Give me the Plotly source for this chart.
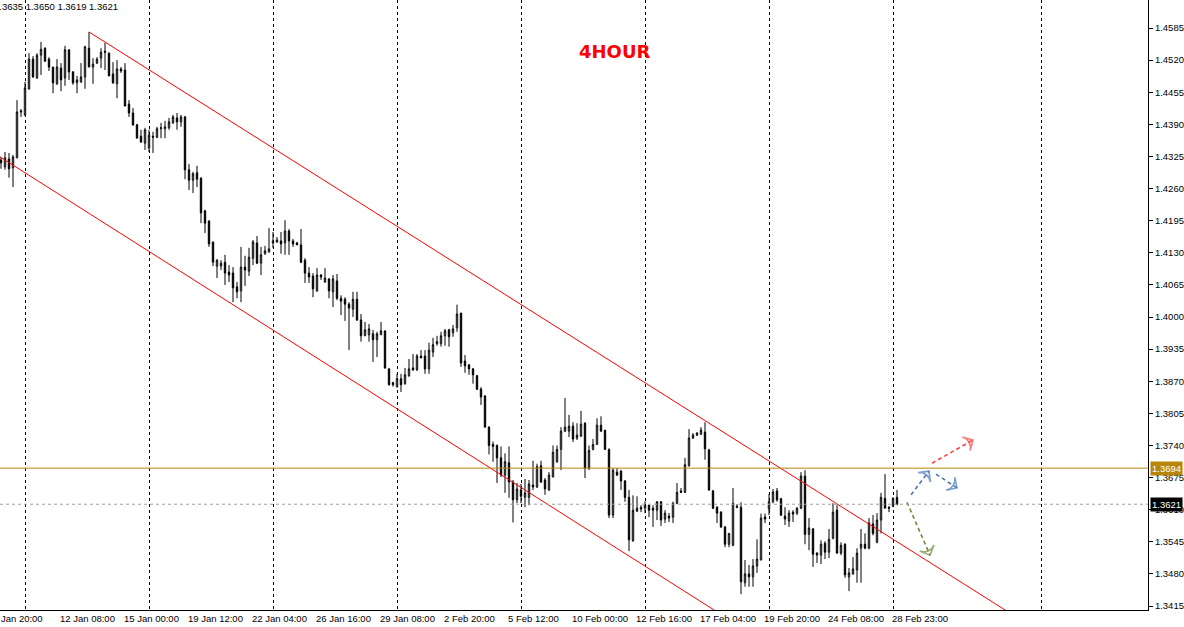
import plotly.graph_objects as go

# 4H bars (oldest first)
opens = [
    1.4318, 1.4304, 1.4320, 1.4302, 1.4322, 1.4415, 1.4409, 1.4462, 1.4522, 1.4484,
    1.4530, 1.4544, 1.4522, 1.4506, 1.4472, 1.4504, 1.4484, 1.4541, 1.4496, 1.4474,
    1.4476, 1.4486, 1.4544, 1.4506, 1.4514, 1.4524, 1.4538, 1.4534, 1.4492, 1.4472,
    1.4502, 1.4500, 1.4431, 1.4413, 1.4389, 1.4366, 1.4352, 1.4342, 1.4366, 1.4364,
    1.4381, 1.4381, 1.4383, 1.4393, 1.4403, 1.4395, 1.4405, 1.4298, 1.4277, 1.4292,
    1.4281, 1.4215, 1.4194, 1.4152, 1.4103, 1.4103, 1.4111, 1.4091, 1.4089, 1.4061,
    1.4053, 1.4101, 1.4093, 1.4119, 1.4150, 1.4109, 1.4128, 1.4132, 1.4150, 1.4152,
    1.4154, 1.4150, 1.4174, 1.4154, 1.4150, 1.4146, 1.4115, 1.4089, 1.4083, 1.4053,
    1.4085, 1.4071, 1.4077, 1.4051, 1.4073, 1.4038, 1.4036, 1.4026, 1.4016, 1.4036,
    1.3994, 1.3962, 1.3964, 1.3966, 1.3954, 1.3964, 1.3972, 1.3895, 1.3867, 1.3859,
    1.3875, 1.3865, 1.3881, 1.3897, 1.3893, 1.3921, 1.3921, 1.3895, 1.3929, 1.3946,
    1.3946, 1.3962, 1.3974, 1.3968, 1.3978, 1.4008, 1.3911, 1.3903, 1.3895, 1.3881,
    1.3854, 1.3840, 1.3777, 1.3742, 1.3740, 1.3715, 1.3680, 1.3705, 1.3666, 1.3630,
    1.3650, 1.3635, 1.3635, 1.3660, 1.3656, 1.3699, 1.3670, 1.3650, 1.3676, 1.3707,
    1.3732, 1.3769, 1.3769, 1.3779, 1.3755, 1.3759, 1.3785, 1.3694, 1.3732, 1.3742,
    1.3781, 1.3771, 1.3732, 1.3599, 1.3686, 1.3688, 1.3668, 1.3635, 1.3547, 1.3607,
    1.3611, 1.3613, 1.3619, 1.3613, 1.3609, 1.3626, 1.3591, 1.3597, 1.3595, 1.3623,
    1.3648, 1.3645, 1.3699, 1.3755, 1.3761, 1.3763, 1.3767, 1.3731, 1.3648, 1.3615,
    1.3605, 1.3575, 1.3540, 1.3538, 1.3617, 1.3615, 1.3462, 1.3480, 1.3474, 1.3496,
    1.3508, 1.3595, 1.3611, 1.3626, 1.3648, 1.3632, 1.3597, 1.3587, 1.3605, 1.3603,
    1.3613, 1.3678, 1.3560, 1.3571, 1.3522, 1.3518, 1.3542, 1.3524, 1.3552, 1.3609,
    1.3522, 1.3540, 1.3474, 1.3480, 1.3488, 1.3532, 1.3540, 1.3532, 1.3581, 1.3544,
    1.3589, 1.3633, 1.3615, 1.3617, 1.3635,
]
highs = [
    1.4324, 1.4334, 1.4332, 1.4328, 1.4439, 1.4421, 1.4476, 1.4534, 1.4528, 1.4534,
    1.4557, 1.4546, 1.4526, 1.4506, 1.4522, 1.4514, 1.4549, 1.4541, 1.4498, 1.4488,
    1.4514, 1.4549, 1.4577, 1.4524, 1.4526, 1.4544, 1.4555, 1.4536, 1.4516, 1.4520,
    1.4506, 1.4514, 1.4439, 1.4423, 1.4391, 1.4379, 1.4383, 1.4379, 1.4375, 1.4385,
    1.4393, 1.4397, 1.4403, 1.4409, 1.4413, 1.4409, 1.4407, 1.4310, 1.4294, 1.4306,
    1.4283, 1.4217, 1.4196, 1.4152, 1.4117, 1.4115, 1.4126, 1.4105, 1.4101, 1.4071,
    1.4142, 1.4124, 1.4140, 1.4156, 1.4164, 1.4142, 1.4144, 1.4180, 1.4172, 1.4162,
    1.4172, 1.4196, 1.4178, 1.4158, 1.4152, 1.4178, 1.4119, 1.4101, 1.4089, 1.4099,
    1.4087, 1.4099, 1.4079, 1.4085, 1.4087, 1.4044, 1.4040, 1.4030, 1.4051, 1.4051,
    1.4006, 1.3990, 1.3986, 1.3974, 1.3970, 1.3990, 1.3972, 1.3897, 1.3869, 1.3885,
    1.3885, 1.3897, 1.3915, 1.3925, 1.3925, 1.3933, 1.3933, 1.3948, 1.3958, 1.3962,
    1.3970, 1.3976, 1.3976, 1.3984, 1.4025, 1.4008, 1.3923, 1.3905, 1.3897, 1.3883,
    1.3858, 1.3842, 1.3779, 1.3748, 1.3742, 1.3738, 1.3724, 1.3738, 1.3670, 1.3664,
    1.3662, 1.3672, 1.3670, 1.3709, 1.3703, 1.3709, 1.3674, 1.3686, 1.3740, 1.3740,
    1.3777, 1.3836, 1.3802, 1.3787, 1.3785, 1.3810, 1.3787, 1.3740, 1.3753, 1.3795,
    1.3799, 1.3771, 1.3734, 1.3694, 1.3694, 1.3690, 1.3670, 1.3650, 1.3639, 1.3637,
    1.3619, 1.3627, 1.3619, 1.3619, 1.3627, 1.3627, 1.3609, 1.3603, 1.3626, 1.3664,
    1.3654, 1.3715, 1.3773, 1.3765, 1.3767, 1.3777, 1.3787, 1.3733, 1.3650, 1.3617,
    1.3607, 1.3577, 1.3562, 1.3654, 1.3621, 1.3625, 1.3508, 1.3498, 1.3510, 1.3550,
    1.3602, 1.3602, 1.3642, 1.3652, 1.3654, 1.3634, 1.3615, 1.3609, 1.3609, 1.3615,
    1.3686, 1.3690, 1.3593, 1.3573, 1.3524, 1.3548, 1.3546, 1.3571, 1.3623, 1.3619,
    1.3544, 1.3542, 1.3492, 1.3514, 1.3532, 1.3571, 1.3562, 1.3593, 1.3599, 1.3603,
    1.3644, 1.3682, 1.3617, 1.3635, 1.3650,
]
lows = [
    1.4300, 1.4298, 1.4282, 1.4263, 1.4322, 1.4405, 1.4407, 1.4460, 1.4484, 1.4482,
    1.4490, 1.4516, 1.4498, 1.4453, 1.4470, 1.4457, 1.4468, 1.4480, 1.4470, 1.4453,
    1.4474, 1.4462, 1.4506, 1.4472, 1.4512, 1.4504, 1.4500, 1.4488, 1.4472, 1.4443,
    1.4494, 1.4427, 1.4405, 1.4387, 1.4362, 1.4354, 1.4338, 1.4334, 1.4332, 1.4362,
    1.4362, 1.4362, 1.4379, 1.4391, 1.4379, 1.4385, 1.4279, 1.4257, 1.4251, 1.4263,
    1.4190, 1.4170, 1.4142, 1.4103, 1.4079, 1.4095, 1.4065, 1.4071, 1.4030, 1.4038,
    1.4030, 1.4063, 1.4083, 1.4105, 1.4107, 1.4085, 1.4126, 1.4130, 1.4140, 1.4150,
    1.4128, 1.4126, 1.4126, 1.4142, 1.4146, 1.4109, 1.4069, 1.4069, 1.4040, 1.4051,
    1.4075, 1.4069, 1.4038, 1.4020, 1.4034, 1.4004, 1.3992, 1.3933, 1.4000, 1.3992,
    1.3950, 1.3962, 1.3950, 1.3909, 1.3919, 1.3964, 1.3895, 1.3861, 1.3859, 1.3857,
    1.3848, 1.3863, 1.3879, 1.3891, 1.3891, 1.3917, 1.3885, 1.3885, 1.3919, 1.3942,
    1.3940, 1.3942, 1.3940, 1.3960, 1.3970, 1.3899, 1.3887, 1.3883, 1.3865, 1.3852,
    1.3822, 1.3777, 1.3722, 1.3707, 1.3664, 1.3676, 1.3644, 1.3634, 1.3584, 1.3623,
    1.3623, 1.3615, 1.3619, 1.3650, 1.3654, 1.3664, 1.3640, 1.3648, 1.3676, 1.3705,
    1.3690, 1.3767, 1.3757, 1.3747, 1.3751, 1.3757, 1.3674, 1.3690, 1.3730, 1.3742,
    1.3767, 1.3732, 1.3593, 1.3593, 1.3678, 1.3650, 1.3626, 1.3526, 1.3545, 1.3605,
    1.3605, 1.3603, 1.3595, 1.3575, 1.3589, 1.3577, 1.3583, 1.3585, 1.3583, 1.3621,
    1.3644, 1.3644, 1.3697, 1.3753, 1.3759, 1.3761, 1.3711, 1.3648, 1.3611, 1.3583,
    1.3573, 1.3534, 1.3534, 1.3536, 1.3613, 1.3439, 1.3454, 1.3454, 1.3454, 1.3482,
    1.3508, 1.3583, 1.3599, 1.3623, 1.3626, 1.3597, 1.3579, 1.3575, 1.3585, 1.3599,
    1.3611, 1.3540, 1.3528, 1.3494, 1.3502, 1.3500, 1.3510, 1.3512, 1.3550, 1.3522,
    1.3518, 1.3472, 1.3445, 1.3478, 1.3462, 1.3462, 1.3530, 1.3530, 1.3558, 1.3542,
    1.3562, 1.3613, 1.3605, 1.3615, 1.3619,
]
closes = [
    1.4312, 1.4322, 1.4300, 1.4324, 1.4415, 1.4417, 1.4464, 1.4522, 1.4486, 1.4530,
    1.4542, 1.4518, 1.4506, 1.4474, 1.4506, 1.4480, 1.4541, 1.4496, 1.4474, 1.4480,
    1.4486, 1.4547, 1.4506, 1.4512, 1.4522, 1.4536, 1.4536, 1.4488, 1.4474, 1.4502,
    1.4498, 1.4427, 1.4413, 1.4389, 1.4362, 1.4354, 1.4379, 1.4368, 1.4364, 1.4381,
    1.4383, 1.4385, 1.4395, 1.4405, 1.4395, 1.4405, 1.4298, 1.4277, 1.4290, 1.4279,
    1.4211, 1.4190, 1.4148, 1.4111, 1.4115, 1.4109, 1.4089, 1.4085, 1.4059, 1.4051,
    1.4101, 1.4095, 1.4121, 1.4152, 1.4109, 1.4126, 1.4134, 1.4138, 1.4154, 1.4156,
    1.4148, 1.4174, 1.4154, 1.4148, 1.4146, 1.4111, 1.4089, 1.4081, 1.4057, 1.4085,
    1.4081, 1.4079, 1.4053, 1.4077, 1.4038, 1.4032, 1.4026, 1.4018, 1.4036, 1.3994,
    1.3962, 1.3974, 1.3976, 1.3954, 1.3966, 1.3972, 1.3897, 1.3863, 1.3863, 1.3875,
    1.3863, 1.3883, 1.3895, 1.3893, 1.3921, 1.3917, 1.3895, 1.3933, 1.3944, 1.3950,
    1.3962, 1.3972, 1.3960, 1.3976, 1.4006, 1.3907, 1.3901, 1.3895, 1.3883, 1.3854,
    1.3838, 1.3777, 1.3740, 1.3738, 1.3715, 1.3680, 1.3707, 1.3666, 1.3630, 1.3652,
    1.3637, 1.3644, 1.3662, 1.3656, 1.3697, 1.3666, 1.3652, 1.3680, 1.3726, 1.3732,
    1.3769, 1.3777, 1.3779, 1.3753, 1.3761, 1.3783, 1.3694, 1.3730, 1.3742, 1.3781,
    1.3769, 1.3732, 1.3599, 1.3690, 1.3680, 1.3668, 1.3635, 1.3549, 1.3609, 1.3613,
    1.3615, 1.3619, 1.3609, 1.3609, 1.3626, 1.3589, 1.3603, 1.3593, 1.3623, 1.3645,
    1.3645, 1.3701, 1.3755, 1.3761, 1.3765, 1.3771, 1.3733, 1.3650, 1.3613, 1.3603,
    1.3575, 1.3540, 1.3562, 1.3623, 1.3615, 1.3464, 1.3480, 1.3474, 1.3496, 1.3510,
    1.3593, 1.3591, 1.3626, 1.3646, 1.3630, 1.3599, 1.3591, 1.3603, 1.3601, 1.3613,
    1.3678, 1.3560, 1.3573, 1.3520, 1.3518, 1.3540, 1.3524, 1.3550, 1.3605, 1.3522,
    1.3538, 1.3478, 1.3482, 1.3490, 1.3522, 1.3540, 1.3532, 1.3583, 1.3562, 1.3589,
    1.3635, 1.3613, 1.3613, 1.3633, 1.3621,
]

# time labels sit on bar numbers (weekend gaps are skipped like MT4)
label_bars = [0, 15, 31, 47, 63, 79, 95, 111, 127, 143, 159, 175, 191, 207, 223]
label_text = [
    "7 Jan 20:00", "12 Jan 08:00", "15 Jan 00:00", "19 Jan 12:00", "22 Jan 04:00",
    "26 Jan 16:00", "29 Jan 08:00", "2 Feb 20:00", "5 Feb 12:00", "10 Feb 00:00",
    "12 Feb 16:00", "17 Feb 04:00", "19 Feb 20:00", "24 Feb 08:00", "28 Feb 23:00",
]
grid_bars = [6, 37, 68, 99, 130, 161, 192, 223, 260]
price_ticks = [
    1.3415, 1.3480, 1.3545, 1.3610, 1.3675, 1.3740, 1.3805, 1.3870, 1.3935, 1.4000,
    1.4065, 1.4130, 1.4195, 1.4260, 1.4325, 1.4390, 1.4455, 1.4520, 1.4585,
]

# descending channel (two anchor points each)
upper_bars, upper_prices = [22, 252], [1.4577, 1.3402]
lower_bars, lower_prices = [-1, 180], [1.4328, 1.3398]

alert_level = 1.3694

# scenario arrows: (bars, prices, colour)
arrows = [
    ([232.75, 243.0], [1.3704, 1.3751], "#F04848"),
    ([227.5, 232.0], [1.3640, 1.3688], "#4A78B8"),
    ([233.75, 239.0], [1.3682, 1.3654], "#4A78B8"),
    ([226.5, 232.25], [1.3625, 1.3518], "#6E8B3D"),
]

FONT = "Liberation Sans"

fig = go.Figure()

fig.add_trace(go.Candlestick(
    x=list(range(len(opens))),
    open=opens, high=highs, low=lows, close=closes,
    increasing=dict(line=dict(color="black", width=1), fillcolor="white"),
    decreasing=dict(line=dict(color="black", width=1), fillcolor="black"),
    hoverinfo="skip",
))

for bx, py in [(upper_bars, upper_prices), (lower_bars, lower_prices)]:
    fig.add_trace(go.Scatter(x=bx, y=py, mode="lines",
                             line=dict(color="#FF0000", width=1), hoverinfo="skip"))

for bx, py, col in arrows:
    fig.add_trace(go.Scatter(
        x=bx, y=py, mode="lines+markers",
        line=dict(color=col, width=1.6, dash="4px,3px"),
        marker=dict(symbol="arrow-wide-open", size=[0, 11], angleref="previous",
                    color=col, line=dict(color=col, width=1.6)),
        hoverinfo="skip",
    ))

fig.add_hline(y=alert_level, line=dict(color="#B8860B", width=1))
fig.add_hline(y=closes[-1], line=dict(color="#A0A0A0", width=1, dash="dot"))

annotations = []
for i, (b, t) in enumerate(zip(label_bars, label_text)):
    annotations.append(dict(
        x=b, y=0, xref="x", yref="paper", text=t, showarrow=False,
        xanchor="left", yanchor="top", yshift=-1, xshift=-10 if i == 0 else -3,
        font=dict(family=FONT, size=9.5, color="black"),
    ))

for level, bg in [(alert_level, "#B8860B"), (closes[-1], "black")]:
    annotations.append(dict(
        x=1, y=level, xref="paper", yref="y", text=f"{level:.4f}", showarrow=False,
        xanchor="left", yanchor="middle", xshift=2, bgcolor=bg, borderpad=1,
        font=dict(family=FONT, size=9.5, color="white"),
    ))

annotations.append(dict(
    x=0, y=1, xref="paper", yref="paper", showarrow=False,
    text=f"{opens[-1]:.4f} {highs[-1]:.4f} {lows[-1]:.4f} {closes[-1]:.4f}",
    xanchor="left", yanchor="top", xshift=-8, yshift=1,
    font=dict(family=FONT, size=9.5, color="black"),
))
annotations.append(dict(
    x=0.5357, y=0.915, xref="paper", yref="paper", text="<b>4HOUR</b>",
    xanchor="center", yanchor="middle",
    showarrow=False, font=dict(family="DejaVu Sans", size=18, color="#FF0000"),
))

fig.update_layout(
    width=1184, height=627,
    margin=dict(l=0, r=36, t=0, b=17),
    paper_bgcolor="white", plot_bgcolor="white",
    showlegend=False,
    boxgap=0.5,
    annotations=annotations,
    xaxis=dict(
        range=[-0.25, 286.75], tickvals=grid_bars, showticklabels=False, ticks="",
        showgrid=True, gridcolor="black", gridwidth=1, griddash="3px,3px",
        zeroline=False, showline=True, linecolor="black", linewidth=1,
        rangeslider=dict(visible=False), fixedrange=True,
    ),
    xaxis2=dict(
        overlaying="x", anchor="y", side="bottom", range=[-0.25, 286.75],
        tickvals=label_bars[1:], showticklabels=False, ticks="outside", ticklen=4,
        tickcolor="black", showgrid=False, zeroline=False, fixedrange=True,
    ),
    yaxis=dict(
        side="right", range=[1.34069, 1.46417], tickvals=price_ticks,
        tickformat=".4f", ticks="outside", ticklen=4, tickcolor="black",
        showline=True, linecolor="black", linewidth=1, showgrid=False,
        zeroline=False, fixedrange=True,
        tickfont=dict(family=FONT, size=9.5, color="black"),
    ),
)

fig.write_html(
    "out.html",
    config={"displayModeBar": False},
    post_script="document.body.style.margin='0';document.body.style.overflow='hidden';",
)
